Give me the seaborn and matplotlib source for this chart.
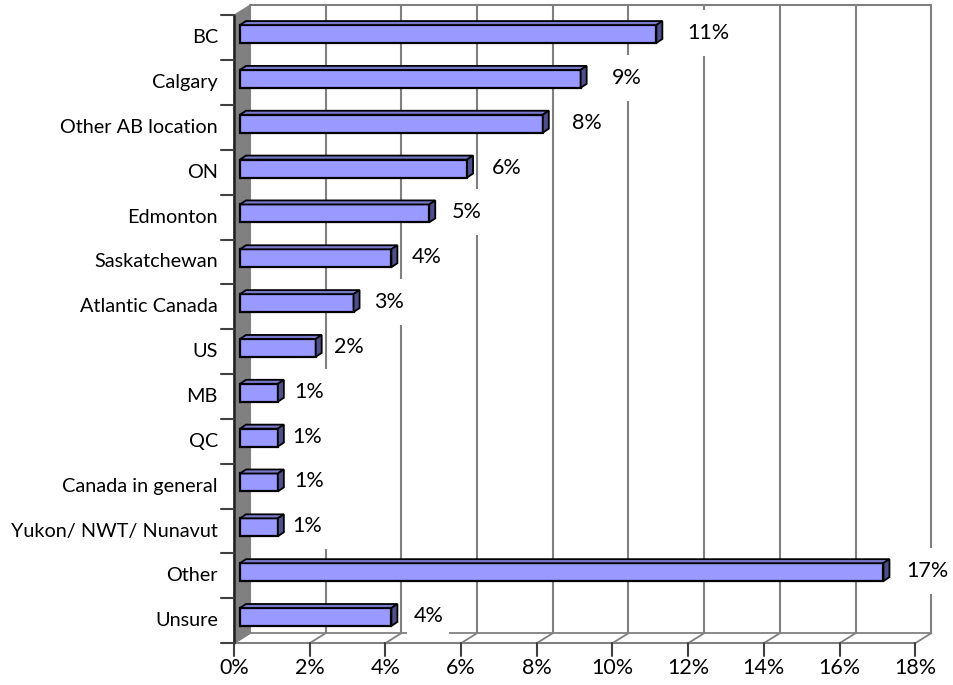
import matplotlib
matplotlib.use("Agg")
import matplotlib.pyplot as plt
import matplotlib.transforms as mtransforms
from matplotlib.patches import Polygon, Rectangle
import seaborn as sns
import pandas as pd

categories = ["BC", "Calgary", "Other AB location", "ON", "Edmonton",
              "Saskatchewan", "Atlantic Canada", "US", "MB", "QC",
              "Canada in general", "Yukon/ NWT/ Nunavut", "Other", "Unsure"]
values = [11, 9, 8, 6, 5, 4, 3, 2, 1, 1, 1, 1, 17, 4]
x_ticks = list(range(0, 19, 2))
x_tick_labels = [f"{t}%" for t in x_ticks]
# gap (px) between each bar end and its value label
label_gap = [25, 25, 23, 19, 17, 14, 15, 12, 10, 8, 10, 8, 17, 16]

df = pd.DataFrame({"location": categories, "share": values})

sns.set_theme(style="white")
plt.rcParams["font.family"] = ["Lato", "DejaVu Sans"]
FS = 14.3       # category labels
FS_NUM = 15.5   # percentages

W, H, DPI = 954, 685, 100
fig = plt.figure(figsize=(W / DPI, H / DPI), dpi=DPI)

# plane of the bar fronts, in pixels
left_px, right_px = 240, 240 + 18 * 37.85
top_px, bot_px = 11.6, 639.4
ax = fig.add_axes([left_px / W, 1 - bot_px / H,
                   (right_px - left_px) / W, (bot_px - top_px) / H])
ax.set_zorder(2.5)
ax.patch.set_visible(False)

sns.barplot(data=df, y="location", x="share", orient="h", ax=ax,
            color="#9999ff", saturation=1, width=0.4,
            edgecolor="black", linewidth=1.6, zorder=5)
for p in ax.patches:
    p.set_clip_on(False)

ax.set_xlim(0, 18)
ax.set_ylim(13.5, -0.5)
ax.axis("off")

def shifted(dx, dy):
    return ax.transData + mtransforms.ScaledTranslation(dx / DPI, dy / DPI, fig.dpi_scale_trans)

# depth offsets (pixels, y up) of the front and back planes
FDX, FDY = -6, -3.75
BDX, BDY = 10, 6.25
t_back = shifted(BDX, BDY)
grid_c = "#808080"
y0, y1 = 13.5, -0.5

# back wall grid
for t in x_ticks:
    ax.plot([t, t], [y0, y1], color=grid_c, lw=1.5, transform=t_back,
            zorder=1, clip_on=False)
ax.plot([0, 18], [y1, y1], color=grid_c, lw=1.5, transform=t_back,
        zorder=1, clip_on=False)

pix = ax.transData
def to_disp(x, y, dx, dy):
    px, py = pix.transform((x, y))
    return px + dx, py + dy

inv = fig.transFigure.inverted()
def line_disp(p, q, **kw):
    a = inv.transform(p)
    b = inv.transform(q)
    fig.add_artist(plt.Line2D([a[0], b[0]], [a[1], b[1]],
                              transform=fig.transFigure, **kw))

# floor: edges and diagonals from front ticks to back grid
for t in x_ticks:
    line_disp(to_disp(t, y0, FDX, FDY), to_disp(t, y0, BDX, BDY),
              color=grid_c, lw=1.3, zorder=1)
line_disp(to_disp(0, y0, FDX, FDY), to_disp(18, y0, FDX, FDY),
          color=grid_c, lw=1.5, zorder=2)
line_disp(to_disp(0, y0, BDX, BDY), to_disp(18, y0, BDX, BDY),
          color=grid_c, lw=1.3, zorder=1)

# left wall
corners = [to_disp(0, y0, FDX, FDY), to_disp(0, y1, FDX, FDY),
           to_disp(0, y1, BDX, BDY), to_disp(0, y0, BDX, BDY)]
wall = Polygon([inv.transform(c) for c in corners], closed=True,
               transform=fig.transFigure, facecolor="#808080",
               edgecolor="#808080", lw=1, zorder=2)
fig.add_artist(wall)
line_disp(corners[0], corners[1], color="#202020", lw=1.8, zorder=2.2)

# front axis ticks and labels
for t, lab in zip(x_ticks, x_tick_labels):
    px, py = to_disp(t, y0, FDX, FDY)
    line_disp((px, py), (px, py - 13), color="#404040", lw=1.5, zorder=3)
    a = inv.transform((px, py - 25))
    fig.text(a[0], a[1], lab, ha="center", va="center", fontsize=FS_NUM,
             color="black")

# left ticks at category boundaries, category labels
for i in range(len(categories) + 1):
    px, py = to_disp(0, i - 0.5, FDX, FDY)
    line_disp((px - 13, py), (px, py), color="#404040", lw=1.5, zorder=3)
for i, lab in enumerate(categories):
    px, py = to_disp(0, i, FDX, FDY)
    a = inv.transform((px - 16, py))
    fig.text(a[0], a[1], lab, ha="right", va="center", fontsize=FS,
             color="black")

# 3D faces of bars and value labels on white boxes
renderer = fig.canvas.get_renderer()
SDX, SDY = 6, 4
for patch, v, gap in zip(ax.patches, values, label_gap):
    x0, yb = patch.get_x(), patch.get_y()
    w, h = patch.get_width(), patch.get_height()
    ytop, ybot = yb, yb + h  # inverted axis: yb is the upper edge
    tl = to_disp(x0, ytop, 0, 0)
    tr = to_disp(x0 + w, ytop, 0, 0)
    br = to_disp(x0 + w, ybot, 0, 0)
    top_face = [tl, tr, (tr[0] + SDX, tr[1] + SDY), (tl[0] + SDX, tl[1] + SDY)]
    side_face = [tr, br, (br[0] + SDX, br[1] + SDY), (tr[0] + SDX, tr[1] + SDY)]
    for pts, fc in ((top_face, "#7a7acc"), (side_face, "#4f4f8c")):
        fig.add_artist(Polygon([inv.transform(p) for p in pts], closed=True,
                               transform=fig.transFigure, facecolor=fc,
                               edgecolor="black", lw=1.3, zorder=4))
    cx, cy = to_disp(x0 + w, yb + h / 2, 0, 0)
    a = inv.transform((cx + SDX + gap, cy + 1))
    txt = fig.text(a[0], a[1], f"{v}%", ha="left", va="center",
                   fontsize=FS_NUM, color="black", zorder=6)
    ext = txt.get_window_extent(renderer)
    bx0, by0 = ext.x0 - 6, cy + 1 - 23
    box = Rectangle(inv.transform((bx0, by0)),
                    (ext.width + 12) / W, 46 / H, transform=fig.transFigure,
                    facecolor="white", edgecolor="none", zorder=5)
    fig.add_artist(box)

fig.savefig("out.png", dpi=DPI, facecolor="white")
